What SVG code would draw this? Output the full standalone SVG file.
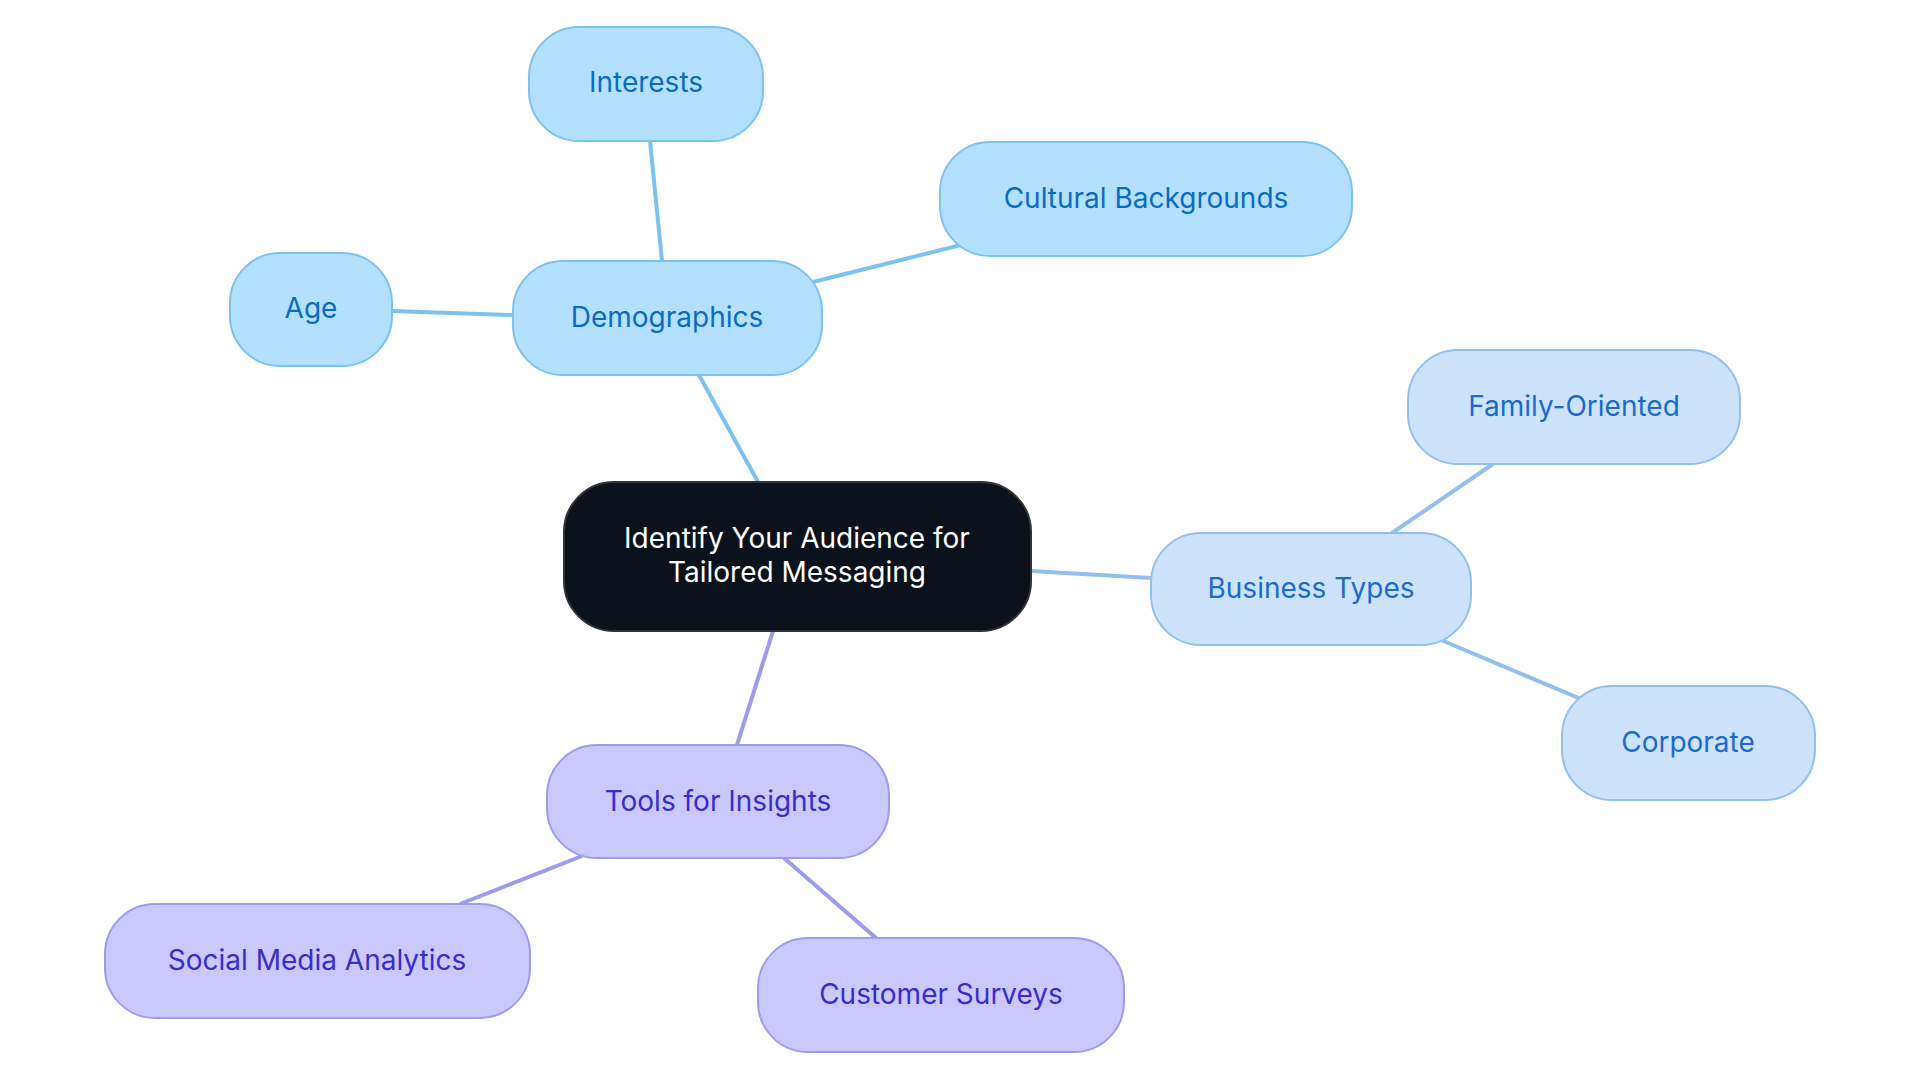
<svg xmlns="http://www.w3.org/2000/svg" width="1920" height="1083" viewBox="0 0 1920 1083">
<style>
text{font-family:Inter,"Noto Sans",sans-serif;font-size:28px;text-anchor:middle;dominant-baseline:central}
.a rect{fill:#b3e0fe;stroke:#7cc2f0;stroke-width:2}.a text{fill:#0b6cbf}
.b rect{fill:#cde3fb;stroke:#92bfee;stroke-width:2}.b text{fill:#1a6bd0}
.c rect{fill:#c9c9fd;stroke:#9c9cee;stroke-width:2}.c text{fill:#3a2ccc}
#edges line{stroke-width:4}
</style>
<rect width="1920" height="1083" fill="#fff"/>
<g id="edges">
<line x1="662" y1="261" x2="650" y2="141" stroke="#7cc2f0"/>
<line x1="813" y1="282" x2="961" y2="245" stroke="#7cc2f0"/>
<line x1="513" y1="315" x2="392" y2="311" stroke="#7cc2f0"/>
<line x1="758" y1="482" x2="699" y2="375" stroke="#7cc2f0"/>
<line x1="1031" y1="571" x2="1151" y2="578" stroke="#92bfee"/>
<line x1="1392" y1="533" x2="1493" y2="464" stroke="#92bfee"/>
<line x1="1441" y1="640" x2="1581" y2="699" stroke="#92bfee"/>
<line x1="773" y1="631" x2="737" y2="745" stroke="#9c9cee"/>
<line x1="582" y1="856" x2="460" y2="904" stroke="#9c9cee"/>
<line x1="784" y1="858" x2="876" y2="938" stroke="#9c9cee"/>
</g>
<g id="center"><rect x="564" y="482" width="467" height="149" rx="50" fill="#0c121b" stroke="#333" stroke-width="2"/><text x="797" y="538" fill="#fff">Identify Your Audience for</text><text x="797" y="572" fill="#fff">Tailored Messaging</text></g>
<g id="demographics" class="a"><rect x="513" y="261" width="309" height="114" rx="50"/><text x="667" y="317">Demographics</text></g>
<g id="interests" class="a"><rect x="529" y="27" width="234" height="114" rx="50"/><text x="646" y="82">Interests</text></g>
<g id="cultural" class="a"><rect x="940" y="142" width="412" height="114" rx="50"/><text x="1146" y="198">Cultural Backgrounds</text></g>
<g id="age" class="a"><rect x="230" y="253" width="162" height="113" rx="50"/><text x="311" y="308">Age</text></g>
<g id="business" class="b"><rect x="1151" y="533" width="320" height="112" rx="50"/><text x="1311" y="588">Business Types</text></g>
<g id="family" class="b"><rect x="1408" y="350" width="332" height="114" rx="50"/><text x="1574" y="406">Family-Oriented</text></g>
<g id="corporate" class="b"><rect x="1562" y="686" width="253" height="114" rx="50"/><text x="1688" y="742">Corporate</text></g>
<g id="tools" class="c"><rect x="547" y="745" width="342" height="113" rx="50"/><text x="718" y="801">Tools for Insights</text></g>
<g id="social" class="c"><rect x="105" y="904" width="425" height="114" rx="50"/><text x="317" y="960">Social Media Analytics</text></g>
<g id="surveys" class="c"><rect x="758" y="938" width="366" height="114" rx="50"/><text x="941" y="994">Customer Surveys</text></g>
</svg>
